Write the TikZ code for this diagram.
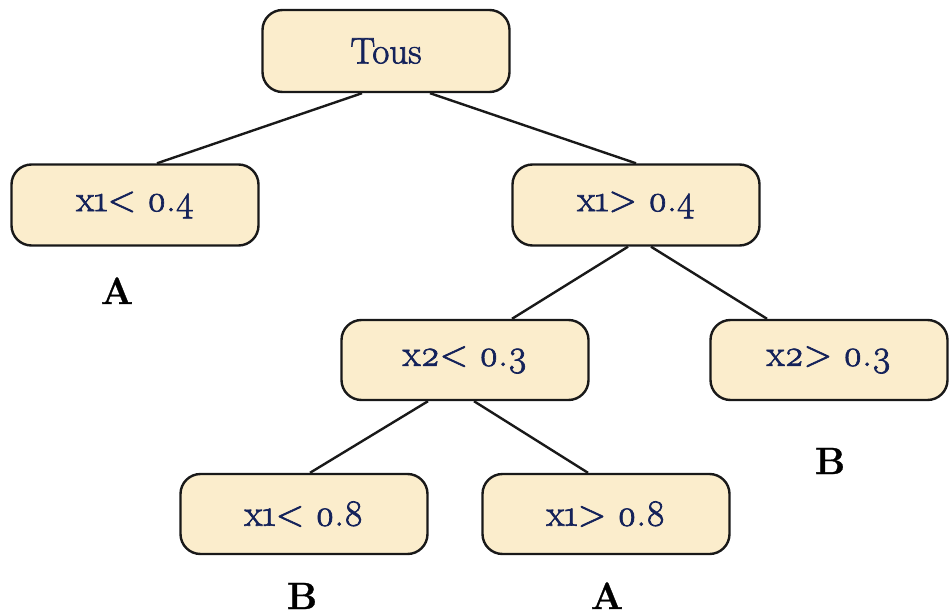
\documentclass[tikz,border=0pt]{standalone}
\usepackage{fontspec}
\newfontfamily\boxfont{Latin Modern Roman}[Numbers=OldStyle, FakeBold=1.8]
\newfontfamily\leaffont{Latin Modern Roman}[FakeBold=0.8]
\definecolor{boxfill}{HTML}{FBEDCC}
\definecolor{navy}{HTML}{14225A}
\tikzset{
  box/.style={draw=black!90, line width=2.4pt, fill=boxfill, rounded corners=20pt,
    minimum width=247pt, minimum height=81pt, inner sep=0pt, text=navy,
    font=\boxfont\fontsize{37}{42}\selectfont},
  leaf/.style={font=\leaffont\fontsize{38}{44}\selectfont\bfseries, text=black, inner sep=0pt, anchor=base},
  edge/.style={line width=2.4pt, draw=black!90}
}
\begin{document}
\begin{tikzpicture}[x=1pt,y=-1pt]
\useasboundingbox (0,0) rectangle (950,615);
\node[box, minimum height=82pt] (tous) at (386,51) {Tous};
\node[box] (l1) at (135,205) {x1< 0.4};
\node[box] (r1) at (636,205) {x1> 0.4};
\node[box, minimum height=80pt] (n3) at (465,360) {x2< 0.3};
\node[box, minimum width=237pt, minimum height=80pt] (n4) at (829,360) {x2> 0.3};
\node[box, minimum height=80pt] (n5) at (304,514) {x1< 0.8};
\node[box, minimum height=80pt] (n6) at (606,514) {x1> 0.8};
\node[leaf] (la) at (117,304) {A};
\node[leaf] (lb) at (830,474) {B};
\node[leaf] (lc) at (302,609) {B};
\node[leaf] (ld) at (607,609) {A};
\draw[edge] ([xshift=-24pt]tous.south) -- ([xshift=22pt]l1.north);
\draw[edge] ([xshift=44pt]tous.south) -- (r1.north);
\draw[edge] ([xshift=-8pt]r1.south) -- ([xshift=47pt]n3.north);
\draw[edge] ([xshift=15pt]r1.south) -- ([xshift=-62pt]n4.north);
\draw[edge] ([xshift=-37pt]n3.south) -- ([xshift=6pt]n5.north);
\draw[edge] ([xshift=9pt]n3.south) -- ([xshift=-18pt]n6.north);
\end{tikzpicture}
\end{document}
